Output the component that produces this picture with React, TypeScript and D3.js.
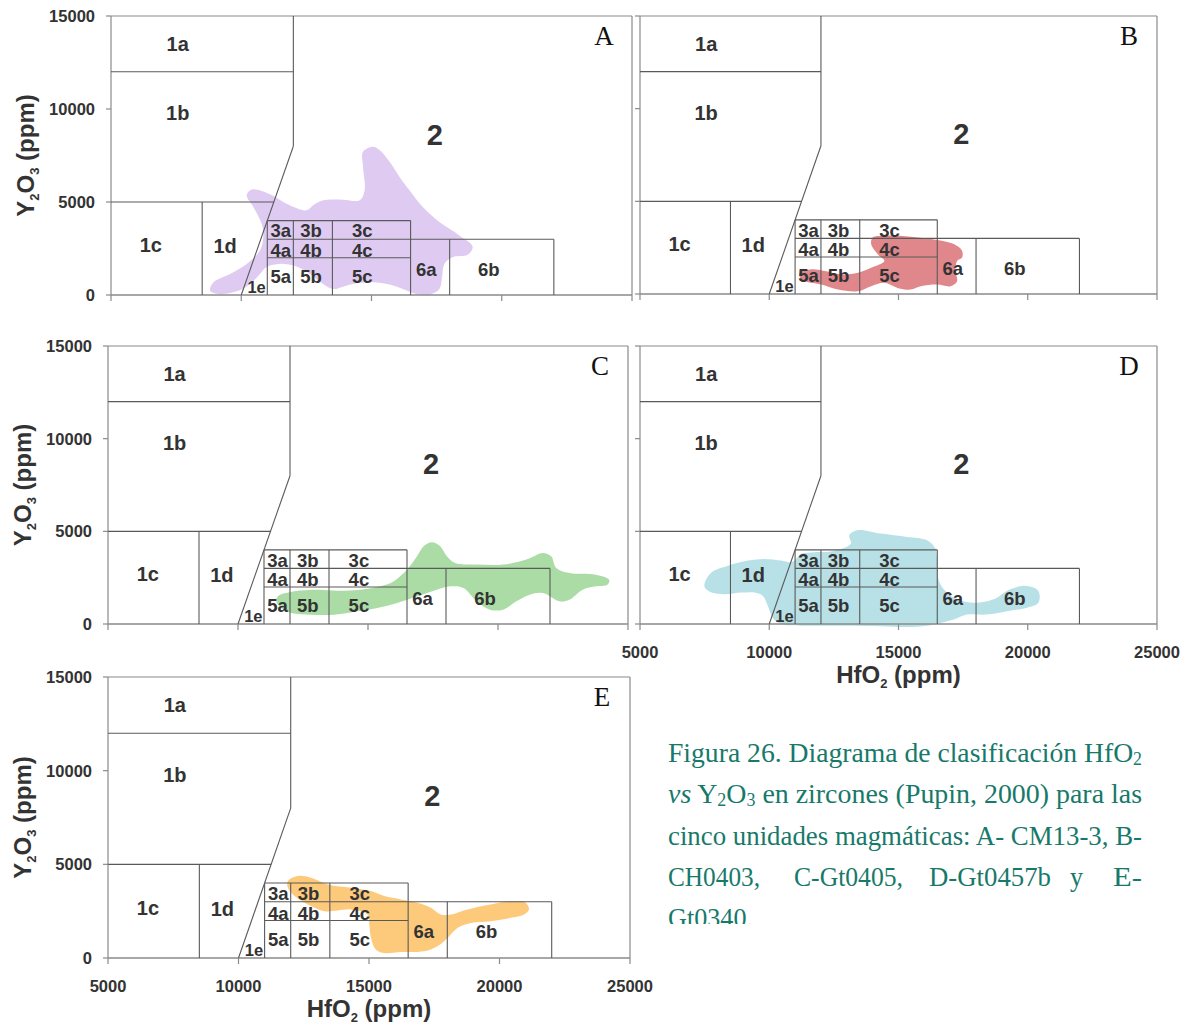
import React from 'react';
import * as d3 from 'd3';

// ---- axis ticks ----
const xTicks = [5000, 10000, 15000, 20000, 25000];
const yTicks = [0, 5000, 10000, 15000];

// ---- Pupin (2000) field boundaries [x1, y1, x2, y2] in ppm ----
const fieldSegments: number[][] = [
  [5000, 12000, 12000, 12000],
  [12000, 15000, 12000, 8000],
  [12000, 8000, 10000, 0],
  [5000, 5000, 11250, 5000],
  [8500, 5000, 8500, 0],
  [11000, 4000, 16500, 4000],
  [11000, 3000, 22000, 3000],
  [11000, 2000, 16500, 2000],
  [11000, 4000, 11000, 0],
  [12000, 4000, 12000, 0],
  [13500, 4000, 13500, 0],
  [16500, 4000, 16500, 0],
  [18000, 3000, 18000, 0],
  [22000, 3000, 22000, 0],
];

const fieldNames = ['1a', '1b', '2', '1c', '1d', '1e', '3a', '3b', '3c', '4a', '4b', '4c', '5a', '5b', '5c', '6a', '6b'];
const fieldX = [7560, 7560, 17430, 6530, 9380, 10590, 11520, 12680, 14650, 11520, 12680, 14650, 11520, 12680, 14650, 17100, 19500];
const fieldY = [13500, 9800, 8650, 2700, 2650, 420, 3450, 3450, 3450, 2400, 2400, 2400, 1000, 1000, 1000, 1400, 1400];

// ---- sample fields (HfO2, Y2O3 ppm) ----
const blobA: [number, number][] = [
  [8934, 684], [9571, 1133], [10209, 1673], [10719, 2393], [10847, 3112], [10783, 3832],
  [10464, 4731], [10209, 5361], [10400, 5667], [11102, 5415], [11740, 4911], [12505, 4551],
  [12760, 4821], [13143, 5091], [13908, 5127], [14546, 5091], [14737, 5631], [14673, 6890],
  [14673, 7700], [15056, 7970], [15311, 7790], [15694, 7160], [16077, 6350], [16459, 5631],
  [16969, 4731], [17607, 3922], [18372, 3202], [18883, 2609], [18691, 2159], [18117, 2033],
  [17798, 1673], [17709, 953], [17607, 324], [17224, 18], [16714, 54], [16204, 324],
  [15694, 558], [15056, 684], [14418, 630], [13908, 450], [13526, 324], [13143, 594],
  [12633, 1133], [12122, 1529], [11485, 1673], [11000, 1529], [10719, 1133], [10337, 594],
  [9827, 198], [9189, 54], [8806, 234],
];
const blobB: [number, number][] = [
  [11192, 1147], [11640, 1329], [12151, 1238], [12791, 1056], [13430, 1147], [13942, 1420],
  [14453, 1784], [14198, 2148], [13942, 2694], [14006, 3058], [14453, 3149], [15477, 3094],
  [16500, 2912], [17139, 2694], [17459, 2330], [17459, 1966], [17267, 1784], [17203, 1238],
  [17267, 692], [17011, 419], [16500, 510], [15860, 419], [15477, 237], [14965, 328],
  [14453, 601], [13942, 419], [13430, 146], [12663, 237], [12023, 510], [11384, 692], [11192, 874],
];
const blobC: [number, number][] = [
  [11535, 1494], [12172, 1764], [13064, 1854], [13828, 1800], [14720, 1854], [15484, 2034],
  [15994, 2304], [16503, 2934], [16886, 3654], [17141, 4194], [17459, 4410], [17778, 4194],
  [18032, 3654], [18351, 3294], [19179, 3204], [20198, 3204], [21090, 3474], [21727, 3834],
  [22046, 3654], [22237, 3024], [22746, 2754], [23765, 2664], [24275, 2394], [24211, 2124],
  [23765, 2034], [23256, 1854], [22746, 1314], [22364, 1224], [21727, 1674], [21217, 1584],
  [20708, 1224], [20198, 774], [19689, 774], [19179, 1224], [18669, 1944], [18160, 2034],
  [17650, 1854], [16886, 1494], [16121, 1134], [15357, 864], [14593, 684], [13701, 504],
  [12809, 504], [12045, 594], [11662, 864], [11471, 1224],
];
const blobD: [number, number][] = [
  [7508, 2239], [7764, 2785], [8406, 3149], [9177, 3422], [9819, 3513], [10461, 3422],
  [10846, 3331], [11039, 3513], [11231, 3786], [11745, 3877], [12387, 3913], [13157, 4332],
  [13093, 4787], [13414, 5060], [14313, 4878], [15340, 4696], [16110, 4514], [16431, 4059],
  [16496, 3331], [16560, 2330], [16752, 1875], [17138, 1420], [17908, 1147], [18678, 1329],
  [19320, 1875], [19962, 2057], [20412, 1784], [20412, 1147], [19962, 874], [19192, 692],
  [18422, 510], [17651, 510], [17138, 237], [16624, 55], [16110, -91], [15340, -164],
  [14313, -127], [13286, -91], [12258, -91], [11231, -91], [10461, 0], [10140, 328],
  [9947, 965], [9755, 1511], [9434, 1693], [8920, 1693], [8278, 1602], [7764, 1693], [7508, 1966],
];
const blobE: [number, number][] = [
  [11892, 4108], [12274, 4376], [12784, 4286], [13421, 3929], [14312, 3750], [15077, 3572],
  [15586, 3304], [16223, 3126], [16860, 2947], [17370, 2679], [17752, 2322], [18134, 2322],
  [18771, 2590], [19663, 2858], [20555, 3036], [21001, 2947], [21129, 2590], [20937, 2322],
  [20428, 2143], [19663, 1965], [18899, 1875], [18389, 1607], [18007, 1072], [17625, 625],
  [17115, 357], [16223, 321], [15586, 268], [15268, 447], [15077, 1072], [15013, 1786],
  [14949, 2322], [14312, 2590], [13803, 2536], [13293, 2500], [12784, 2768], [12147, 3304], [11892, 3750],
];

const captionLine3 = 'cinco unidades magmáticas: A- CM13-3, B-';
const captionWords = ['CH0403,', 'C-Gt0405,', 'D-Gt0457b', 'y', 'E-'];

// ---- layout ----
const panels = [
  { letter: 'A', blob: blobA, color: '#dfcbf2', x0: 111, x1: 632, y0: 16, y1: 295, yLab: true, xLab: false },
  { letter: 'B', blob: blobB, color: '#e0878b', x0: 640, x1: 1157, y0: 16, y1: 294, yLab: false, xLab: false },
  { letter: 'C', blob: blobC, color: '#abdca5', x0: 108, x1: 628, y0: 346, y1: 624, yLab: true, xLab: false },
  { letter: 'D', blob: blobD, color: '#b8e1e7', x0: 640, x1: 1157, y0: 346, y1: 624, yLab: false, xLab: true },
  { letter: 'E', blob: blobE, color: '#fdca7c', x0: 108, x1: 630, y0: 677, y1: 958, yLab: true, xLab: true },
];

const SANS = '"Liberation Sans", Arial, sans-serif';
const SERIF = '"Liberation Serif", "Times New Roman", serif';
const INK = '#333';
const LINE = '#5a5a5a';
const AXIS = '#8a8a8a';

function Panel({ p }: { p: typeof panels[number] }) {
  const xs = d3.scaleLinear().domain([5000, 25000]).range([p.x0, p.x1]);
  const ys = d3.scaleLinear().domain([0, 15000]).range([p.y1, p.y0]);
  const line = d3
    .line<[number, number]>()
    .x((d) => xs(d[0]))
    .y((d) => ys(d[1]))
    .curve(d3.curveCatmullRomClosed.alpha(0.5));
  const sizeOf = (n: string) => (n === '2' ? 29 : n === '1e' ? 16.5 : n[0] === '1' ? 20 : 18.5);
  return (
    <g>
      <path d={line(p.blob) || ''} fill={p.color} stroke="none" />
      {/* frame */}
      <line x1={xs(5000)} x2={xs(25000)} y1={ys(15000)} y2={ys(15000)} stroke={AXIS} strokeWidth={1.2} />
      <line x1={xs(25000)} x2={xs(25000)} y1={ys(15000)} y2={ys(0)} stroke={AXIS} strokeWidth={1.2} />
      <line x1={xs(5000)} x2={xs(5000)} y1={ys(15000)} y2={ys(0)} stroke={AXIS} strokeWidth={1.2} />
      <line x1={xs(5000)} x2={xs(25000)} y1={ys(0)} y2={ys(0)} stroke={AXIS} strokeWidth={1.4} />
      {xTicks.map((t) => (
        <line key={'xt' + t} x1={xs(t)} x2={xs(t)} y1={ys(0)} y2={ys(0) + 6} stroke={AXIS} strokeWidth={1.2} />
      ))}
      {yTicks.map((t) => (
        <line key={'yt' + t} x1={xs(5000) - 5} x2={xs(5000)} y1={ys(t)} y2={ys(t)} stroke={AXIS} strokeWidth={1.2} />
      ))}
      {fieldSegments.map((s, i) => (
        <line key={'f' + i} x1={xs(s[0])} y1={ys(s[1])} x2={xs(s[2])} y2={ys(s[3])} stroke={LINE} strokeWidth={1.1} />
      ))}
      {fieldNames.map((n, i) => (
        <text
          key={'n' + n}
          x={xs(fieldX[i])}
          y={ys(fieldY[i])}
          dy="0.36em"
          textAnchor="middle"
          fontFamily={SANS}
          fontWeight="bold"
          fontSize={sizeOf(n)}
          fill={INK}
        >
          {n}
        </text>
      ))}
      <text x={p.x1 - 28} y={p.y0 + 29} textAnchor="middle" fontFamily={SERIF} fontSize={27} fill="#111">
        {p.letter}
      </text>
      {p.yLab &&
        yTicks.map((t) => (
          <text key={'yl' + t} x={xs(5000) - 16} y={ys(t)} dy="0.36em" textAnchor="end" fontFamily={SANS} fontWeight="bold" fontSize={16.5} fill={INK}>
            {t}
          </text>
        ))}
      {p.yLab && (
        <text
          transform={`translate(${p.x0 - 86},${(p.y0 + p.y1) / 2}) rotate(-90)`}
          textAnchor="middle"
          dy="0.36em"
          fontFamily={SANS}
          fontWeight="bold"
          fontSize={24}
          fill={INK}
        >
          Y<tspan fontSize={13} dy={5}>2</tspan>
          <tspan dy={-5}>O</tspan>
          <tspan fontSize={13} dy={5}>3</tspan>
          <tspan dy={-5}> (ppm)</tspan>
        </text>
      )}
      {p.xLab &&
        xTicks.map((t) => (
          <text key={'xl' + t} x={xs(t)} y={ys(0) + 34} textAnchor="middle" fontFamily={SANS} fontWeight="bold" fontSize={16.5} fill={INK}>
            {t}
          </text>
        ))}
      {p.xLab && (
        <text x={xs(15000)} y={ys(0) + 59} textAnchor="middle" fontFamily={SANS} fontWeight="bold" fontSize={24} fill={INK}>
          HfO<tspan fontSize={13} dy={5}>2</tspan>
          <tspan dy={-5}> (ppm)</tspan>
        </text>
      )}
    </g>
  );
}

export default function App() {
  const teal = '#17796a';
  const capX = 668;
  const capW = 474;
  const wordX = [668, 794, 929, 1070, 1113];
  const wordW = [92, 109, 122, 13, 29];
  return (
    <svg width={1185} height={1025} style={{ position: 'absolute', left: 0, top: 0, background: '#fff' }}>
      <defs>
        <clipPath id="capclip">
          <rect x={600} y={700} width={585} height={224} />
        </clipPath>
      </defs>
      <rect x={0} y={0} width={1185} height={1025} fill="#fff" />
      {panels.map((p) => (
        <Panel key={p.letter} p={p} />
      ))}
      <g fontFamily={SERIF} fontSize={28} fill={teal} clipPath="url(#capclip)">
        <text x={capX} y={762} textLength={capW} lengthAdjust="spacingAndGlyphs">
          Figura 26. Diagrama de clasificación HfO<tspan fontSize={18} dy={3}>2</tspan>
        </text>
        <text x={capX} y={803} textLength={capW} lengthAdjust="spacingAndGlyphs">
          <tspan fontStyle="italic">vs</tspan> Y<tspan fontSize={18} dy={3}>2</tspan>
          <tspan dy={-3}>O</tspan>
          <tspan fontSize={18} dy={3}>3</tspan>
          <tspan dy={-3}> en zircones (Pupin, 2000) para las</tspan>
        </text>
        <text x={capX} y={845} textLength={capW} lengthAdjust="spacingAndGlyphs">
          {captionLine3}
        </text>
        {captionWords.map((w, i) => (
          <text key={w} x={wordX[i]} y={886} textLength={wordW[i]} lengthAdjust="spacingAndGlyphs">
            {w}
          </text>
        ))}
        <text x={capX} y={927} textLength={85} lengthAdjust="spacingAndGlyphs">
          Gt0340.
        </text>
      </g>
    </svg>
  );
}
